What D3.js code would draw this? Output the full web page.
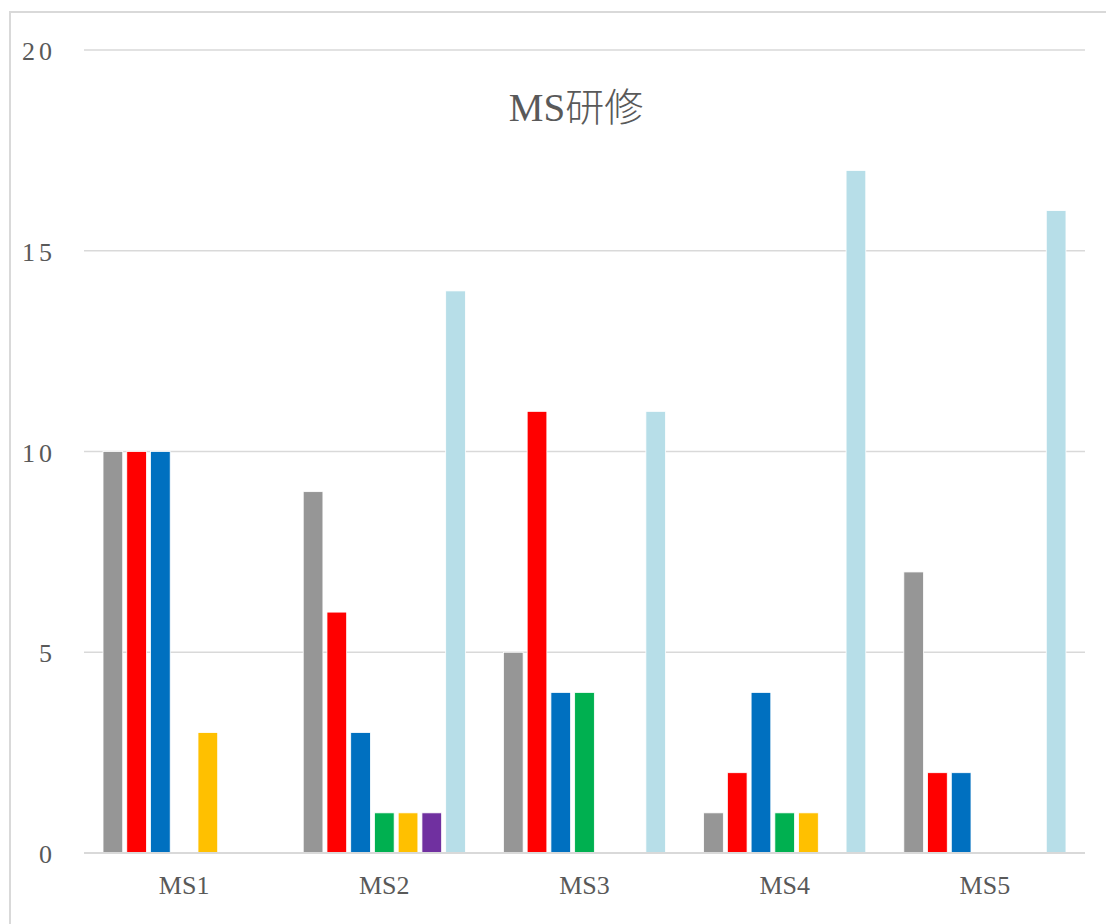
<!DOCTYPE html>
<html><head><meta charset="utf-8">
<script src="https://cdn.jsdelivr.net/npm/d3@7"></script>
<style>
html,body{margin:0;padding:0;background:#fff;}
svg{display:block;}
text{font-family:"Liberation Serif","DejaVu Serif","Noto Sans CJK JP",serif;fill:#595959;}
</style></head>
<body>
<svg id="chart" width="1106" height="924"></svg>
<script>
const categories = ["MS1","MS2","MS3","MS4","MS5"];
const seriesNames = ["s1","s2","s3","s4","s5","s6","s7"];
const seriesColors = ["#969696","#FF0000","#0070C0","#00B050","#FFC000","#7030A0","#B7DEE8"];
const s1 = [10, 9, 5, 1, 7];
const s2 = [10, 6, 11, 2, 2];
const s3 = [10, 3, 4, 4, 2];
const s4 = [0, 1, 4, 1, 0];
const s5 = [3, 1, 0, 1, 0];
const s6 = [0, 1, 0, 0, 0];
const s7 = [0, 14, 11, 17, 16];
const seriesValues = [s1,s2,s3,s4,s5,s6,s7];
const yTicks = [0,5,10,15,20];
const title = "MS研修";

const svg = d3.select("#chart");
// outer border
svg.append("rect").attr("x",10).attr("y",12).attr("width",1120).attr("height",940)
  .attr("fill","none").attr("stroke","#d9d9d9").attr("stroke-width",2);

const plotL = 84, plotR = 1085, plotT = 50, plotB = 853;
const y = d3.scaleLinear().domain([0,20]).range([plotB, plotT]);
const x0 = d3.scaleBand().domain(categories).range([plotL, plotR]).paddingInner(0.19).paddingOuter(0.095);
const x1 = d3.scaleBand().domain(seriesNames).range([0, x0.bandwidth()]).paddingInner(0.17).paddingOuter(0);

// gridlines
svg.append("g").selectAll("line").data(yTicks.filter(t=>t>0)).join("line")
  .attr("x1",plotL).attr("x2",plotR)
  .attr("y1",d=>y(d)).attr("y2",d=>y(d))
  .attr("stroke","#d9d9d9").attr("stroke-width",1.5);

// y labels
svg.append("g").selectAll("text").data(yTicks).join("text")
  .attr("x",56).attr("y",d=>y(d)+10)
  .attr("text-anchor","end").attr("font-size",26).attr("letter-spacing","4px").text(d=>d);

// bars
const groups = svg.append("g").selectAll("g").data(categories).join("g")
  .attr("transform",c=>`translate(${x0(c)},0)`);
groups.selectAll("rect").data((c,ci)=>seriesNames.map((s,si)=>({s,si,v:seriesValues[si][ci]})).filter(d=>d.v>0))
  .join("rect")
  .attr("x",d=>x1(d.s)).attr("width",x1.bandwidth())
  .attr("y",d=>y(d.v)).attr("height",d=>y(0)-y(d.v))
  .attr("fill",d=>seriesColors[d.si])
  .attr("stroke","#fff").attr("stroke-width",0.8);

// baseline
svg.append("line").attr("x1",plotL).attr("x2",plotR).attr("y1",y(0)).attr("y2",y(0))
  .attr("stroke","#d9d9d9").attr("stroke-width",2);

// x labels
svg.append("g").selectAll("text").data(categories).join("text")
  .attr("x",c=>x0(c)+x0.bandwidth()/2).attr("y",894)
  .attr("text-anchor","middle").attr("font-size",26).text(d=>d);

// title
svg.append("text").attr("x",576).attr("y",121).attr("text-anchor","middle")
  .attr("font-size",39).attr("font-weight",300).text(title);
</script>
</body></html>
